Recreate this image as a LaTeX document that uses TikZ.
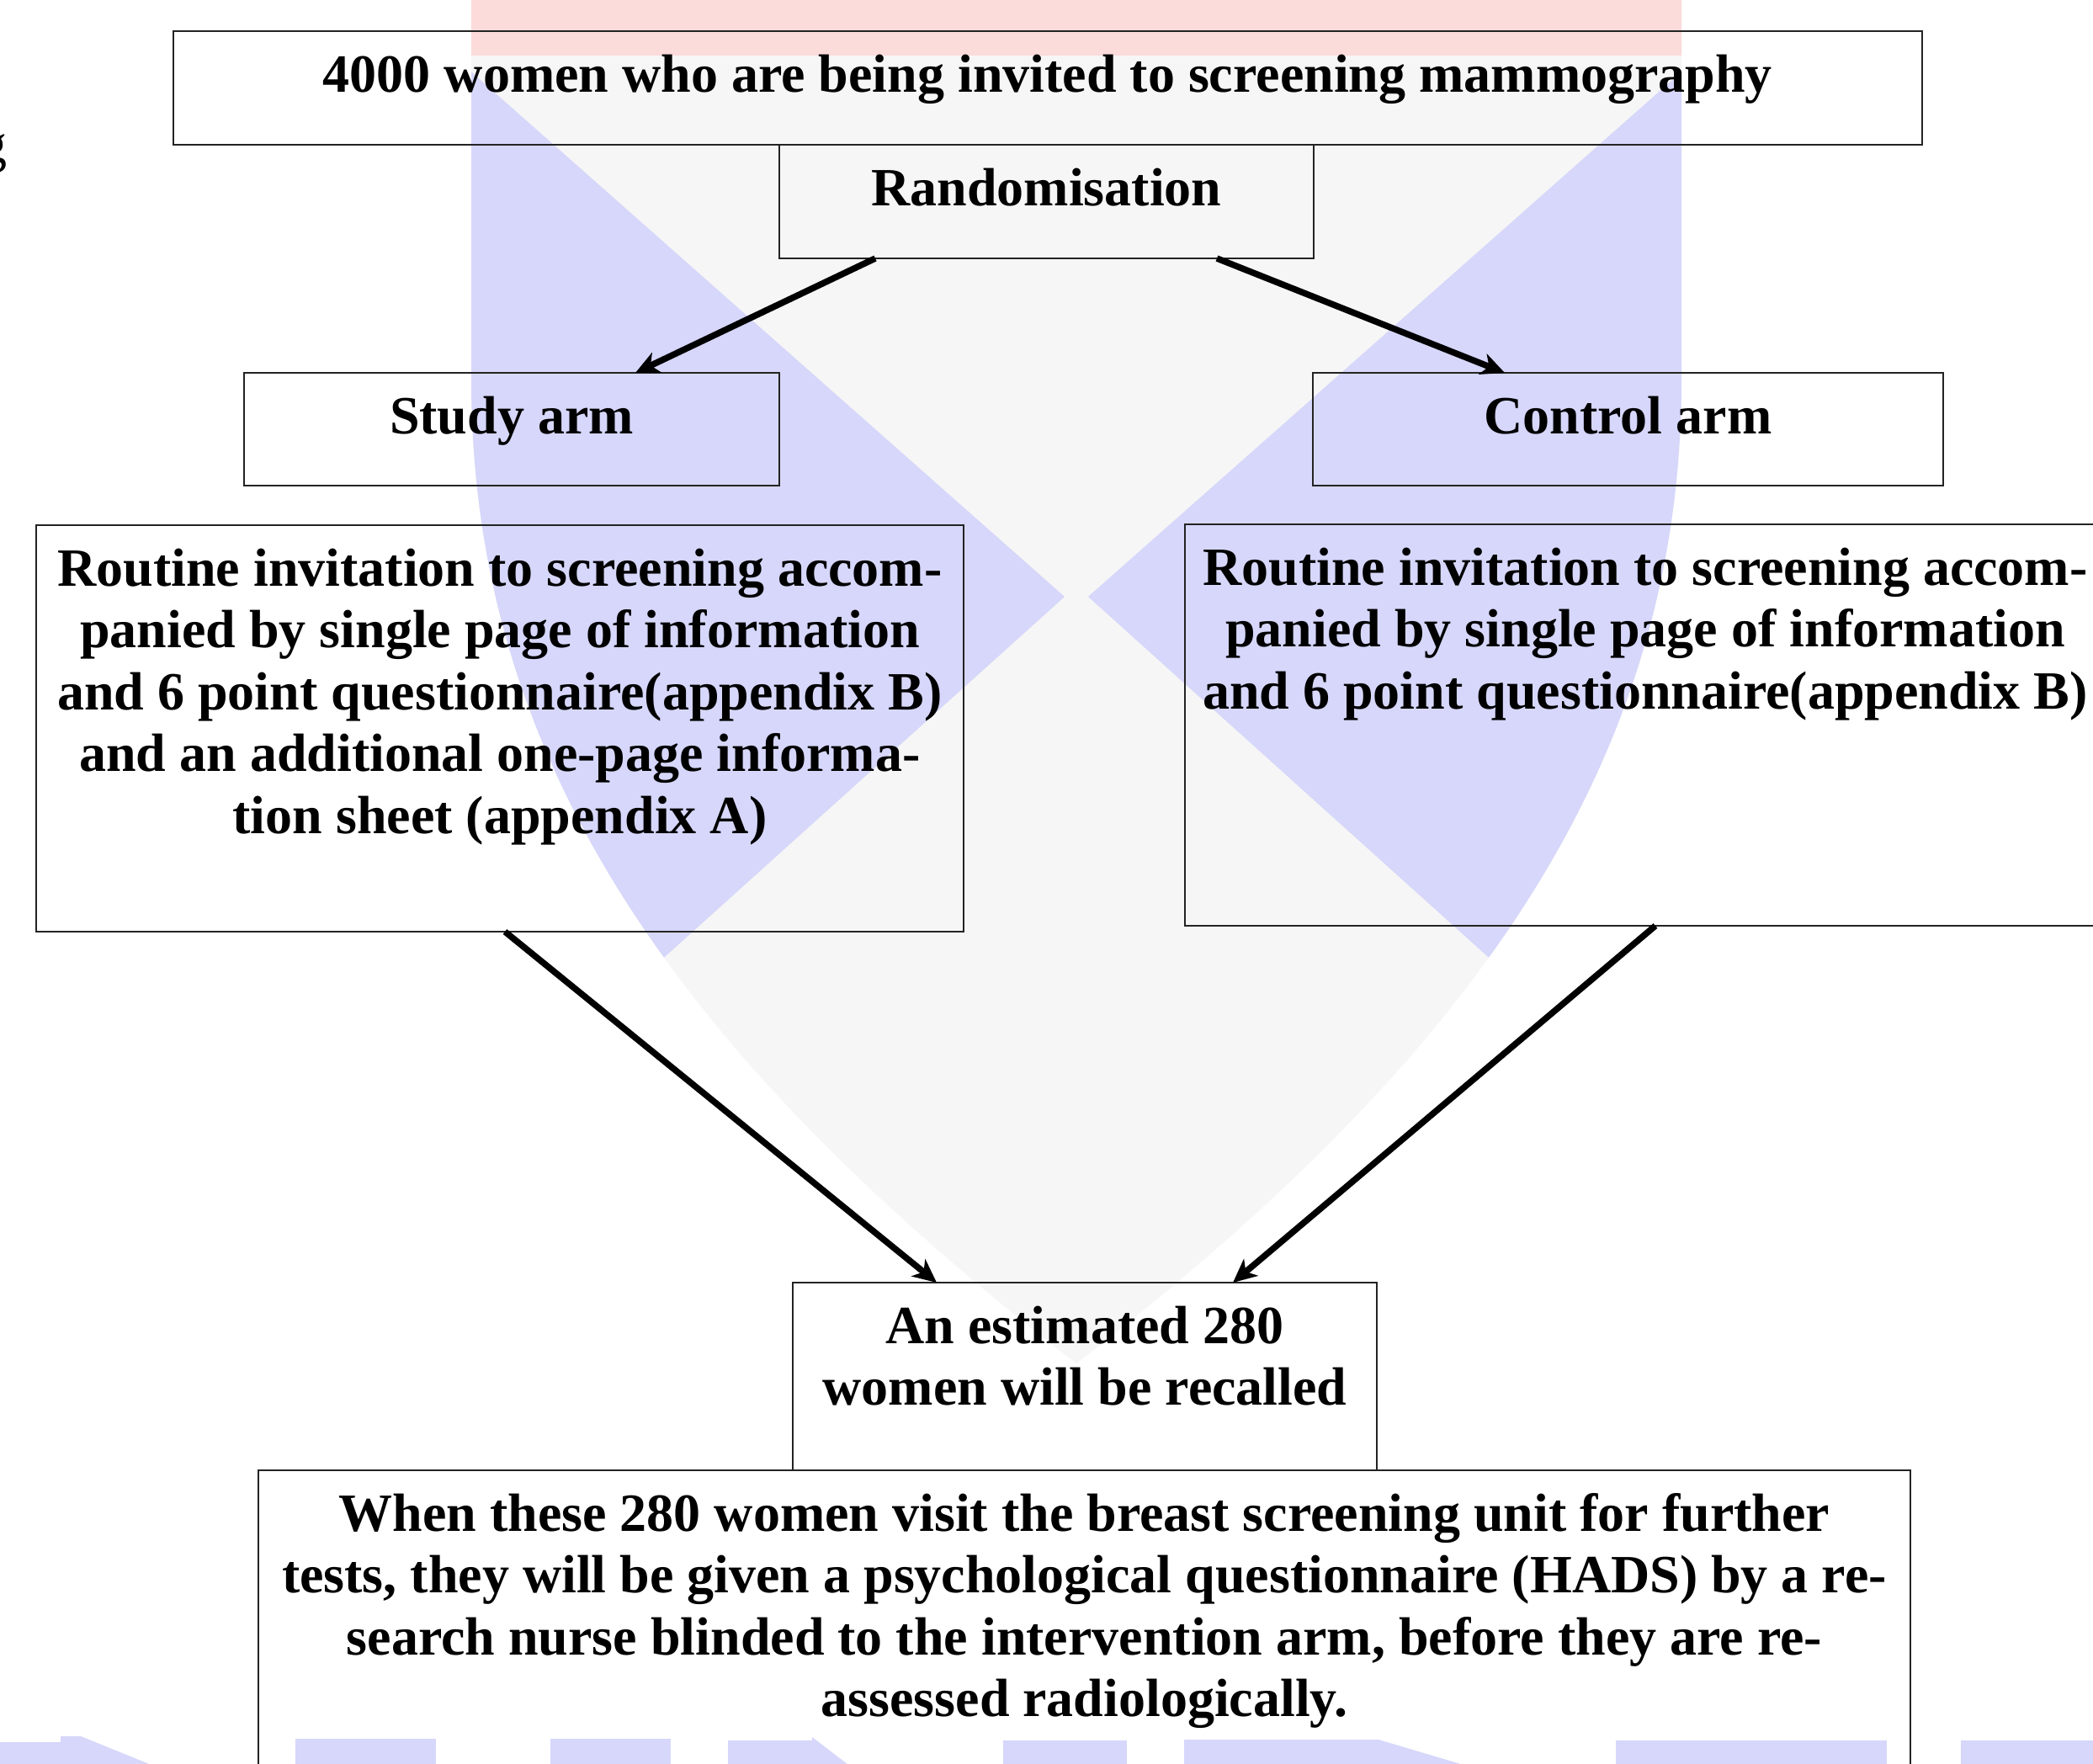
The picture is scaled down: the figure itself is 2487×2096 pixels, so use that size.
\documentclass[tikz,border=0pt]{standalone}
\usepackage{fontspec}
\setmainfont{Liberation Serif}
\usetikzlibrary{arrows.meta,calc}
\definecolor{wmblue}{RGB}{214,215,250}
\definecolor{wmred}{RGB}{252,219,219}
\definecolor{wmgray}{RGB}{246,246,246}
\definecolor{boxline}{RGB}{35,35,35}
\begin{document}
\begin{tikzpicture}[x=1pt,y=-1pt,
  box/.style={draw=boxline, line width=2.5pt, inner sep=0pt, outer sep=0pt, anchor=north west},
  txt/.style={anchor=north, inner sep=0pt, align=center, font=\fontsize{64}{73.5}\selectfont\bfseries},
  arr/.style={line width=7.5pt, -{Stealth[length=28pt,width=26pt,inset=8pt]}}
]
\useasboundingbox (0,0) rectangle (2487,2096);
\fill[white] (0,0) rectangle (2487,2096);

% watermark shield
\begin{scope}
  \clip (560,-10) -- (560,450) .. controls (560,900) and (800,1250) .. (1279,1620)
        .. controls (1758,1250) and (1998,900) .. (1998,450) -- (1998,-10) -- cycle;
  \fill[wmgray] (540,-10) rectangle (2020,1700);
  \fill[wmblue] (520,50) -- (1265,709) -- (520,1380) -- cycle;
  \fill[wmblue] (2038,50) -- (1293,709) -- (2038,1380) -- cycle;
  \fill[wmred] (540,-10) rectangle (2020,66);
\end{scope}

% watermark letters at the bottom
\fill[wmblue] (-5,2070) -- (72,2070) -- (72,2063) -- (96,2063) -- (187,2100) -- (-5,2100) -- cycle;
\fill[wmblue] (351,2066) rectangle (518,2100);
\fill[wmblue] (654,2066) rectangle (797,2100);
\fill[wmblue] (865,2068) -- (965,2068) -- (965,2064) -- (1012,2100) -- (865,2100) -- cycle;
\fill[wmblue] (1192,2068) rectangle (1339,2100);
\fill[wmblue] (1407,2067) -- (1638,2067) -- (1749,2100) -- (1407,2100) -- cycle;
\fill[wmblue] (1920,2068) rectangle (2242,2100);
\fill[wmblue] (2330,2068) rectangle (2495,2100);

% fragment of text at the left edge
\node[anchor=base east, inner sep=0pt, font=\fontsize{64}{73.5}\selectfont] (frag) at (9,192) {g};

% boxes
\node[box, minimum width=2078pt, minimum height=135pt] (top) at (206,37) {};
\node[box, minimum width=635pt, minimum height=135pt] (rand) at (926,172) {};
\node[box, minimum width=636pt, minimum height=134pt] (study) at (290,443) {};
\node[box, minimum width=749pt, minimum height=134pt] (control) at (1560,443) {};
\node[box, minimum width=1102pt, minimum height=483pt] (studyd) at (43,624) {};
\node[box, minimum width=1102pt, minimum height=477pt] (controld) at (1408,623) {};
\node[box, minimum width=694pt, minimum height=223pt] (recall) at (942,1524) {};
\node[box, minimum width=1963pt, minimum height=400pt] (final) at (307,1747) {};

% texts
\node[txt] (toptxt) at (1245,57.5) {\strut 4000 women who are being invited to screening mammography};
\node[txt] (randtxt) at (1243.5,192.5) {\strut Randomisation};
\node[txt] (studytxt) at (608,463.5) {\strut Study arm};
\node[txt] (controltxt) at (1934.5,463.5) {\strut Control arm};
\node[txt] (studydtxt) at (594,644.5) {\strut Routine invitation to screening accom-\\
panied by single page of information\\
and 6 point questionnaire(appendix B)\\
and an additional one-page informa-\\
tion sheet (appendix A)};
\node[txt] (controldtxt) at (1955,643.5) {\strut Routine invitation to screening accom-\\
panied by single page of information\\
and 6 point questionnaire(appendix B)};
\node[txt] (recalltxt) at (1289,1544.5) {\strut An estimated 280\\
women will be recalled};
\node[txt] (finaltxt) at (1288.5,1767.5) {\strut When these 280 women visit the breast screening unit for further\\
tests, they will be given a psychological questionnaire (HADS) by a re-\\
search nurse blinded to the intervention arm, before they are re-\\
assessed radiologically.};

% connectors
\draw[arr] ([xshift=114pt]rand.south west) -- ([xshift=465pt]study.north west);
\draw[arr] ([xshift=520pt]rand.south west) -- ([xshift=228pt]control.north west);
\draw[arr] ([xshift=557pt]studyd.south west) -- ([xshift=171pt]recall.north west);
\draw[arr] ([xshift=559pt]controld.south west) -- ([xshift=523pt]recall.north west);
\end{tikzpicture}
\end{document}
